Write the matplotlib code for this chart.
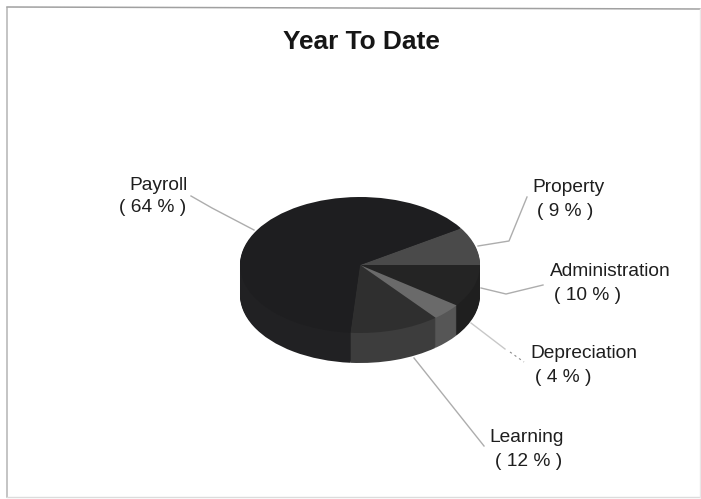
import matplotlib
matplotlib.use('Agg')
import matplotlib.pyplot as plt

categories = ['Property', 'Administration', 'Depreciation', 'Learning', 'Payroll']
percents = [9, 10, 4, 12, 64]

top_colors = ['#4a4a4a', '#242424', '#6a6a6a', '#2f2f2f', '#1e1e20']
side_colors = ['#3c3c3c', '#1f1f1f', '#565656', '#3d3d3d', '#212123']

W, H = 701, 499
DEPTH = 30 / 68  # side height relative to the top ellipse radius

plt.rcParams['font.family'] = ['Liberation Sans', 'DejaVu Sans']
fig = plt.figure(figsize=(W / 100, H / 100), dpi=100)

# overlay in pixel coordinates for the frame, leaders and text
bg = fig.add_axes([0, 0, 1, 1])
bg.set_xlim(0, W)
bg.set_ylim(H, 0)
bg.axis('off')

bg.plot([7, 7], [8, 497], color='#b4b4b4', lw=1.1)
bg.plot([7, 700], [7, 9], color='#a0a0a0', lw=1.1)
bg.plot([7, 700], [497, 497], color='#dcdcdc', lw=1)
bg.plot([700, 700], [9, 497], color='#e8e8e8', lw=1)

bg.text(361, 42, 'Year To Date', ha='center', va='center',
        fontsize=18.9, fontweight='bold', color='#161616')

leaders = {
    'Payroll': ([191, 212, 254], [196, 208, 230]),
    'Property': ([527, 509, 478], [197, 241, 246]),
    'Administration': ([543, 506, 481], [285, 294, 288]),
    'Learning': ([414, 484], [358, 446]),
}
for name, (xs, ys) in leaders.items():
    bg.plot(xs, ys, color='#adadad', lw=1.0)
bg.plot([471, 505], [323, 349], color='#c8c8c8', lw=1.0)
bg.plot([510, 524], [352, 362], color='#8a8a8a', lw=0.8, ls=(0, (2, 3)))

label_pos = {
    'Payroll': (158.5, 186, 208),
    'Property': (568, 188, 212),
    'Administration': (610, 272, 296),
    'Depreciation': (584, 354, 378),
    'Learning': (527, 438, 462),
}
pct_x = {'Payroll': 153, 'Property': 565, 'Administration': 588,
         'Depreciation': 563, 'Learning': 529}
for name, pct in zip(categories, percents):
    x, y1, y2 = label_pos[name]
    bg.text(x, y1, name, ha='center', va='center', fontsize=13.8, color='#1e1e1e')
    bg.text(pct_x[name], y2, f'( {pct} % )', ha='center', va='center',
            fontsize=13.8, color='#1e1e1e')

# pie squashed into an ellipse: axes spans the top face plus the side depth
ax = fig.add_axes([240 / W, 1 - 363 / H, 240 / W, 166 / H])
start = 32.7
for i in range(31):
    d = DEPTH * (1 - i / 30)
    colors = side_colors if i < 30 else top_colors
    wedges, _ = ax.pie(percents, colors=colors, startangle=start, counterclock=False,
                       center=(0, -d), radius=1, frame=True)
ax.set_aspect('auto')
ax.set_xlim(-1, 1)
ax.set_ylim(-1 - DEPTH, 1)
ax.axis('off')
ax.patch.set_alpha(0)

fig.savefig('out.png', dpi=100)
